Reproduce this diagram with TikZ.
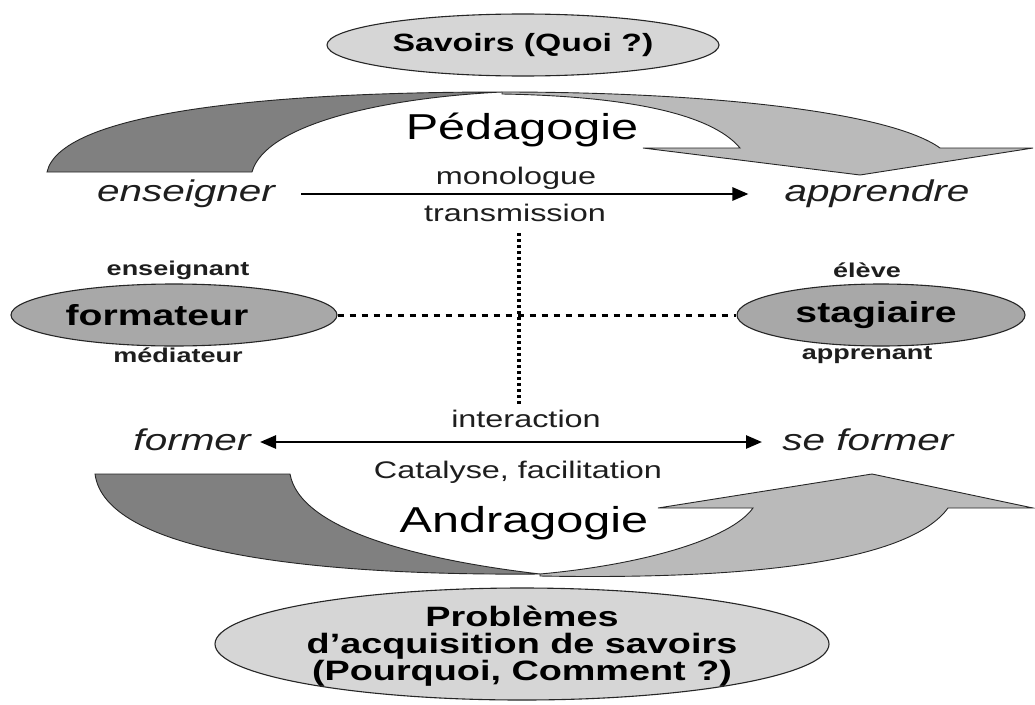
\documentclass[tikz,border=0pt]{standalone}
\usepackage{fontspec}
\setmainfont{Liberation Sans}[FakeStretch=1.35]
\usetikzlibrary{arrows.meta,shapes.geometric}
\newcommand\setfs[1]{\fontsize{#1}{#1}\selectfont}
\definecolor{darkband}{RGB}{128,128,128}
\definecolor{lightband}{RGB}{186,186,186}
\definecolor{midoval}{RGB}{168,168,168}
\definecolor{paleoval}{RGB}{214,214,214}
\definecolor{inktext}{RGB}{30,30,30}
\tikzset{
  band/.style={draw=black!85,line width=0.9pt},
  paleshape/.style={ellipse,draw=black!85,line width=1.1pt,fill=paleoval,inner sep=0pt},
  midshape/.style={ellipse,draw=black!85,line width=1.1pt,fill=midoval,inner sep=0pt},
  titletxt/.style={inner sep=0pt,font=\setfs{25}\bfseries,text=black,align=center},
  questiontxt/.style={inner sep=0pt,font=\setfs{28}\bfseries,text=black,align=center},
  headtxt/.style={inner sep=0pt,font=\setfs{36},text=black},
  verbtxt/.style={inner sep=0pt,font=\setfs{30}\itshape,text=inktext},
  flowtxt/.style={inner sep=0pt,font=\setfs{24},text=inktext},
  roletxt/.style={inner sep=0pt,font=\setfs{20}\bfseries,text=inktext},
  rolebig/.style={inner sep=0pt,font=\setfs{29}\bfseries,text=black},
  flowarrow/.style={line width=2.6pt,-{Triangle[length=16pt,width=13pt]}},
  twoarrow/.style={line width=2.6pt,{Triangle[length=16pt,width=13pt]}-{Triangle[length=16pt,width=13pt]}},
  vdots/.style={line width=4pt,dash pattern=on 3pt off 3pt},
  hdots/.style={line width=3pt,dash pattern=on 6pt off 6pt}
}
\begin{document}
\begin{tikzpicture}[x=1pt,y=-1pt]
\useasboundingbox (0,0) rectangle (1035,704);
\fill[white] (0,0) rectangle (1035,704);

% top ellipse
\node[paleshape,minimum width=392pt,minimum height=62pt] (savoirs) at (523,45) {};
\node[titletxt] (savoirstxt) at (523,45) {Savoirs (Quoi ?)};

% upper curved band: dark tail
\filldraw[band,fill=darkband]
  (47,172) .. controls (60,115) and (250,92) .. (502,92)
  .. controls (380,98) and (265,125) .. (252,172) -- cycle;
% upper curved band: light head with arrow tip
\filldraw[band,fill=lightband]
  (502,92) .. controls (710,92) and (890,112) .. (940,148)
  -- (1033,148) -- (860,175) -- (643,148) -- (740,148)
  .. controls (710,112) and (620,96) .. (502,94) -- cycle;
\node[headtxt] (peda) at (522,130) {Pédagogie};

% verbs and transmission arrow
\node[verbtxt] (enseigner) at (186,194) {enseigner};
\node[verbtxt] (apprendre) at (877,194) {apprendre};
\node[flowtxt] (monologue) at (516,178) {monologue};
\node[flowtxt] (transmission) at (515,213) {transmission};
\draw[flowarrow,shorten <=26pt,shorten >=36pt] (enseigner.east) -- (apprendre.west);

\node[roletxt] (enseignant) at (178,270) {enseignant};
\node[roletxt] (eleve) at (867,270) {élève};

% central ellipses and dotted cross
\node[midshape,minimum width=326pt,minimum height=62pt] (formateur) at (174,315) {};
\node[rolebig] (formateurtxt) at (157,315) {formateur};
\node[midshape,minimum width=288pt,minimum height=62pt] (stagiaire) at (881,315) {};
\node[rolebig] (stagiairetxt) at (876,315) {stagiaire};
\coordinate (vtop) at (519,233);
\coordinate (vbot) at (519,405);
\draw[hdots] (formateur.east) -- (stagiaire.west);
\draw[vdots] (vtop) -- (vbot);

\node[roletxt] (mediateur) at (178,355) {médiateur};
\node[roletxt] (apprenant) at (867,355) {apprenant};

% verbs and interaction arrow
\node[flowtxt] (interaction) at (526,419) {interaction};
\node[verbtxt] (former) at (192,440) {former};
\node[verbtxt] (seformer) at (868,440) {se former};
\coordinate (leftend) at (260,442);
\coordinate (rightend) at (762,442);
\draw[twoarrow] (leftend) -- (rightend);
\node[flowtxt] (catalyse) at (518,472) {Catalyse, facilitation};

% lower curved band: dark tail
\filldraw[band,fill=darkband]
  (95,474) -- (290,474)
  .. controls (300,530) and (420,560) .. (540,574)
  .. controls (300,576) and (105,550) .. (95,474) -- cycle;
% lower curved band: light head with arrow tip
\filldraw[band,fill=lightband]
  (540,574) .. controls (640,565) and (730,540) .. (753,508)
  -- (658,508) -- (872,474) -- (1033,508) -- (948,508)
  .. controls (910,560) and (760,580) .. (540,576) -- cycle;
\node[headtxt] (andra) at (524,523) {Andragogie};

% bottom ellipse
\node[paleshape,minimum width=614pt,minimum height=112pt] (problemes) at (522,644) {};
\node[questiontxt] (problemestxt) at (522,646) {Problèmes\\[-1pt]d’acquisition de savoirs\\[-1pt](Pourquoi, Comment ?)};
\end{tikzpicture}
\end{document}
